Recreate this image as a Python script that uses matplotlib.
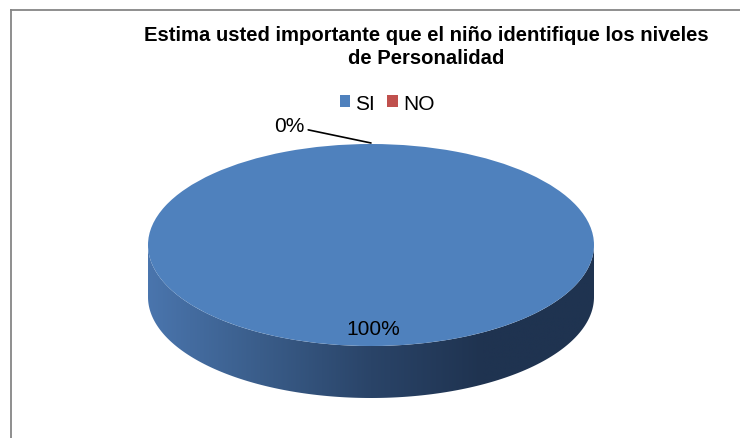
import numpy as np
import matplotlib
import matplotlib.pyplot as plt
from matplotlib.patches import Polygon
from matplotlib.lines import Line2D
from matplotlib.colors import LinearSegmentedColormap

plt.rcParams['font.family'] = ['Liberation Sans', 'DejaVu Sans']

# data
titulo = 'Estima usted importante que el niño identifique los niveles\nde Personalidad'
categorias = ['SI', 'NO']
valores = [100, 0]
colores = ['#4f81bd', '#c0504d']

W, H = 740, 439
fig = plt.figure(figsize=(W / 100, H / 100), dpi=100)

# chart border (top and left only visible)
fig.add_artist(Line2D([10 / W, 1], [1 - 10.5 / H] * 2, color='#868686', lw=1.3,
                      solid_capstyle='butt'))
fig.add_artist(Line2D([10.5 / W] * 2, [0, 1 - 10 / H], color='#868686', lw=1.3,
                      solid_capstyle='butt'))

# pie geometry in pixels: centre, semi axes, thickness
cx, cy, a, b, depth = 371, 246, 223, 101, 52
d = depth / b
ax = fig.add_axes([(cx - a) / W, 1 - (cy + b + depth) / H, 2 * a / W, (2 * b + depth) / H])

wedges, _ = ax.pie(valores, colors=colores, startangle=90, counterclock=False,
                   radius=1, wedgeprops=dict(linewidth=0))
for w in wedges:
    w.set_zorder(3)

# side of the "3d" pie
t = np.linspace(np.pi, 2 * np.pi, 200)
xs = np.concatenate([np.cos(t), np.cos(t[::-1])])
ys = np.concatenate([np.sin(t), np.sin(t[::-1]) - d])
side = Polygon(np.column_stack([xs, ys]), closed=True, facecolor='none', edgecolor='none')
ax.add_patch(side)
cmap = LinearSegmentedColormap.from_list('lado', ['#4a75ad', '#3a5d8a', '#2a4468', '#1f3350', '#1f3350'])
img = ax.imshow(np.linspace(0, 1, 256).reshape(1, -1), cmap=cmap, aspect='auto',
                extent=(-1, 1, -1 - d, 0.05), zorder=1)
img.set_clip_path(side)

ax.set_aspect('auto')
ax.set_xlim(-1, 1)
ax.set_ylim(-1 - d, 1)
ax.axis('off')

# labels
total = sum(valores)
for w, v in zip(wedges, valores):
    mid = np.deg2rad((w.theta1 + w.theta2) / 2)
    txt = '%d%%' % round(v / total * 100)
    if v / total > 0.05:
        ax.text(0.83 * np.cos(mid) + 0.01, 0.83 * np.sin(mid), txt, ha='center', va='center',
                fontsize=15, color='#000000', zorder=5)
    else:
        ax.annotate(txt, xy=(np.cos(mid), np.sin(mid) + 0.01), xytext=(-0.3, 1.18),
                    ha='right', va='center', fontsize=15, zorder=5,
                    arrowprops=dict(arrowstyle='-', color='black', lw=1.2,
                                    shrinkA=1, shrinkB=0), annotation_clip=False)

fig.legend(wedges, categorias, loc='center', bbox_to_anchor=(387 / W, 1 - 104 / H), ncol=2,
           frameon=False, handlelength=0.5, handleheight=0.5, handletextpad=0.25,
           columnspacing=0.6, fontsize=15)

fig.text(426 / W, 1 - 47 / H, titulo, ha='center', va='center', fontsize=14.6,
         fontweight='bold', linespacing=1.25)

fig.savefig('out.png', dpi=100)
